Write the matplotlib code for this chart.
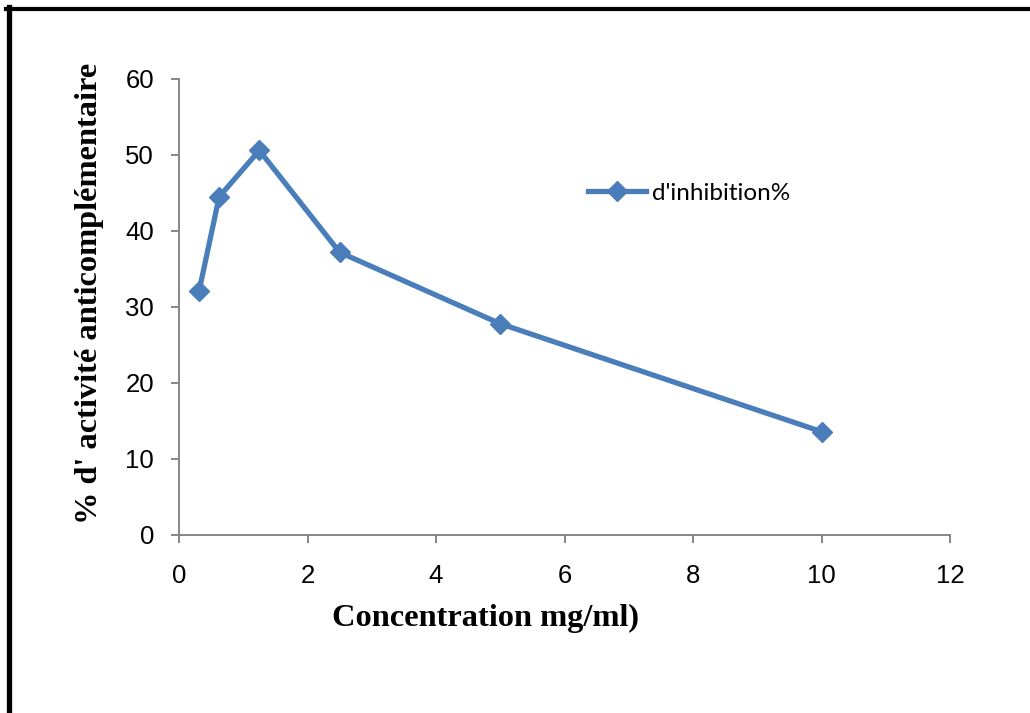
import matplotlib
matplotlib.use("Agg")
import matplotlib.pyplot as plt
from matplotlib.lines import Line2D

# Data
concentration = [0.3125, 0.625, 1.25, 2.5, 5, 10]
inhibition = [32.1, 44.5, 50.6, 37.2, 27.8, 13.6]
series_name = "d'inhibition%"
x_ticks = [0, 2, 4, 6, 8, 10, 12]
y_ticks = [0, 10, 20, 30, 40, 50, 60]

blue = '#4A7EBB'
gray = '#868686'

fig = plt.figure(figsize=(10.3, 7.13), dpi=100)
ax = fig.add_axes([179 / 1030, 1 - 535 / 713, 771 / 1030, 456 / 713])

ax.plot(concentration, inhibition, color=blue, lw=3.8, marker='D',
        markersize=10, markerfacecolor=blue, markeredgecolor=blue,
        label=series_name)

ax.set_xlim(0, 12)
ax.set_ylim(0, 60)
ax.set_xticks(x_ticks)
ax.set_yticks(y_ticks)

for side in ['top', 'right']:
    ax.spines[side].set_visible(False)
for side in ['left', 'bottom']:
    ax.spines[side].set_color(gray)
    ax.spines[side].set_linewidth(1.4)

ax.tick_params(axis='x', direction='out', length=6, width=1.4, color=gray,
               pad=15, labelsize=18.5)
ax.tick_params(axis='y', direction='out', length=6, width=1.4, color=gray,
               pad=12, labelsize=18.5)
for lab in ax.get_xticklabels() + ax.get_yticklabels():
    lab.set_fontfamily('Liberation Sans')

# axis titles (placed like the original, not centred on the axes)
fig.text(485 / 1030, 1 - 618 / 713, 'Concentration mg/ml)',
         fontfamily='Liberation Serif', fontweight='bold', fontsize=23.3,
         ha='center', va='center')
fig.text(90 / 1030, 1 - 293 / 713, "% d' activité anticomplémentaire",
         fontfamily='Liberation Serif', fontweight='bold', fontsize=23.3,
         rotation=90, ha='center', va='center')

leg = ax.legend(loc='center left', bbox_to_anchor=(588 / 1030, 1 - 193 / 713),
                bbox_transform=fig.transFigure, frameon=False,
                borderpad=0, borderaxespad=0, handlelength=2.4,
                handletextpad=0.25, prop={'family': 'Lato', 'size': 17.5})

# border lines on the left and top of the picture
fig.add_artist(Line2D([6 / 1030, 1], [1 - 9 / 713, 1 - 9 / 713],
                      transform=fig.transFigure, color='black', lw=3))
fig.add_artist(Line2D([8.5 / 1030, 8.5 / 1030], [0, 1 - 7 / 713],
                      transform=fig.transFigure, color='black', lw=3.8))

fig.savefig('out.png', dpi=100, facecolor='white')
